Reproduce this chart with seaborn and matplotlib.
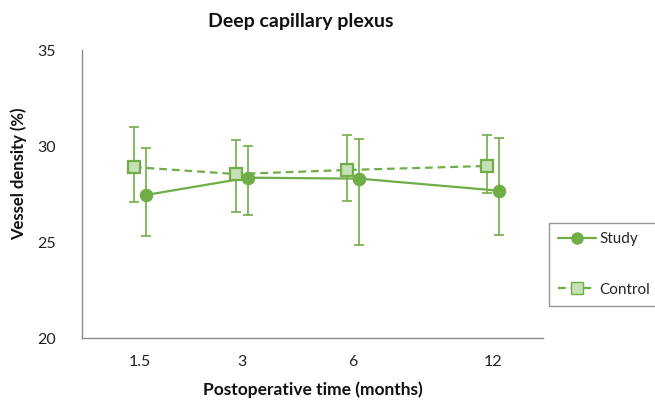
import matplotlib
matplotlib.use("Agg")
import matplotlib.pyplot as plt
import seaborn as sns
import pandas as pd
import numpy as np
from matplotlib.lines import Line2D

# ---- data ----
months = ["1.5", "3", "6", "12"]
study_mean = [27.45, 28.35, 28.30, 27.67]
study_upper = [29.90, 30.00, 30.35, 30.43]
study_lower = [25.30, 26.42, 24.84, 25.36]
control_mean = [28.90, 28.54, 28.75, 28.96]
control_upper = [31.00, 30.30, 30.57, 30.57]
control_lower = [27.10, 26.56, 27.15, 27.57]

# ---- layout (axis positions of the time categories, as drawn) ----
tick_pos = np.array([0.0, 1.0, 2.09, 3.46])
dodge = 0.06

sns.set_theme(style="white")
plt.rcParams["font.family"] = ["Lato", "DejaVu Sans"]

green = "#70AD47"
light = "#C5E0B4"
spine_c = "#8C8C8C"

fig = plt.figure(figsize=(6.55, 4.0), dpi=100)
ax = fig.add_axes([82 / 655, 1 - 338 / 400, (543 - 82) / 655, (338 - 50) / 400])

df = pd.DataFrame({
    "x": np.concatenate([tick_pos + dodge, tick_pos - dodge]),
    "y": study_mean + control_mean,
    "group": ["Study"] * 4 + ["Control"] * 4,
})

# error bars
for name, mean, up, lo, off in [
    ("Control", control_mean, control_upper, control_lower, -dodge),
    ("Study", study_mean, study_upper, study_lower, dodge),
]:
    m = np.array(mean)
    yerr = [m - np.array(lo), np.array(up) - m]
    ax.errorbar(tick_pos + off, m, yerr=yerr, fmt="none", ecolor=green,
                elinewidth=1.2, capsize=3.5, capthick=1.2, zorder=2)

sns.lineplot(data=df[df.group == "Study"], x="x", y="y", ax=ax, color=green,
             lw=1.6, marker="o", markersize=9, markeredgecolor=green,
             markerfacecolor=green, legend=False, zorder=3)
sns.lineplot(data=df[df.group == "Control"], x="x", y="y", ax=ax, color=green,
             lw=1.6, linestyle=(0, (3.5, 2.2)), marker="s", markersize=9,
             markeredgecolor=green, markeredgewidth=1.6,
             markerfacecolor=light, legend=False, zorder=4)

ax.set_xlim(-0.569, 3.95)
ax.set_ylim(20, 35)
ax.set_yticks([20, 25, 30, 35])
ax.set_xticks(tick_pos)
ax.set_xticklabels(months)
ax.tick_params(axis="both", length=0, labelsize=11.5, colors="#222222")
ax.tick_params(axis="y", pad=19)
ax.tick_params(axis="x", pad=12)
for s in ["top", "right"]:
    ax.spines[s].set_visible(False)
for s in ["left", "bottom"]:
    ax.spines[s].set_color(spine_c)
    ax.spines[s].set_linewidth(1.0)

ax.set_xlabel("Postoperative time (months)", fontsize=12.5, fontweight="bold",
              color="#111111", labelpad=9)
ax.set_ylabel("Vessel density (%)", fontsize=12, fontweight="bold",
              color="#111111")
ax.yaxis.set_label_coords(-0.119, 0.569)
fig.text(301 / 655, 1 - 22 / 400, "Deep capillary plexus", ha="center",
         va="center", fontsize=14, fontweight="bold", color="#111111")

handles = [
    Line2D([], [], color=green, lw=1.6, marker="o", markersize=8,
           markerfacecolor=green, markeredgecolor=green),
    Line2D([], [], color=green, lw=1.6, linestyle=(0, (3.5, 2.2)), marker="s",
           markersize=8, markerfacecolor=light, markeredgecolor=green),
]
leg = fig.legend(handles, ["Study", "Control"], loc="upper left",
                 bbox_to_anchor=(549 / 655, 1 - 223 / 400), frameon=True,
                 fancybox=False, fontsize=11, handlelength=2.5,
                 handletextpad=0.2, labelspacing=2.4, borderpad=0.6,
                 borderaxespad=0)
leg.get_frame().set_edgecolor("#7F7F7F")
leg.get_frame().set_linewidth(1.0)

fig.savefig("out.png", dpi=100)
